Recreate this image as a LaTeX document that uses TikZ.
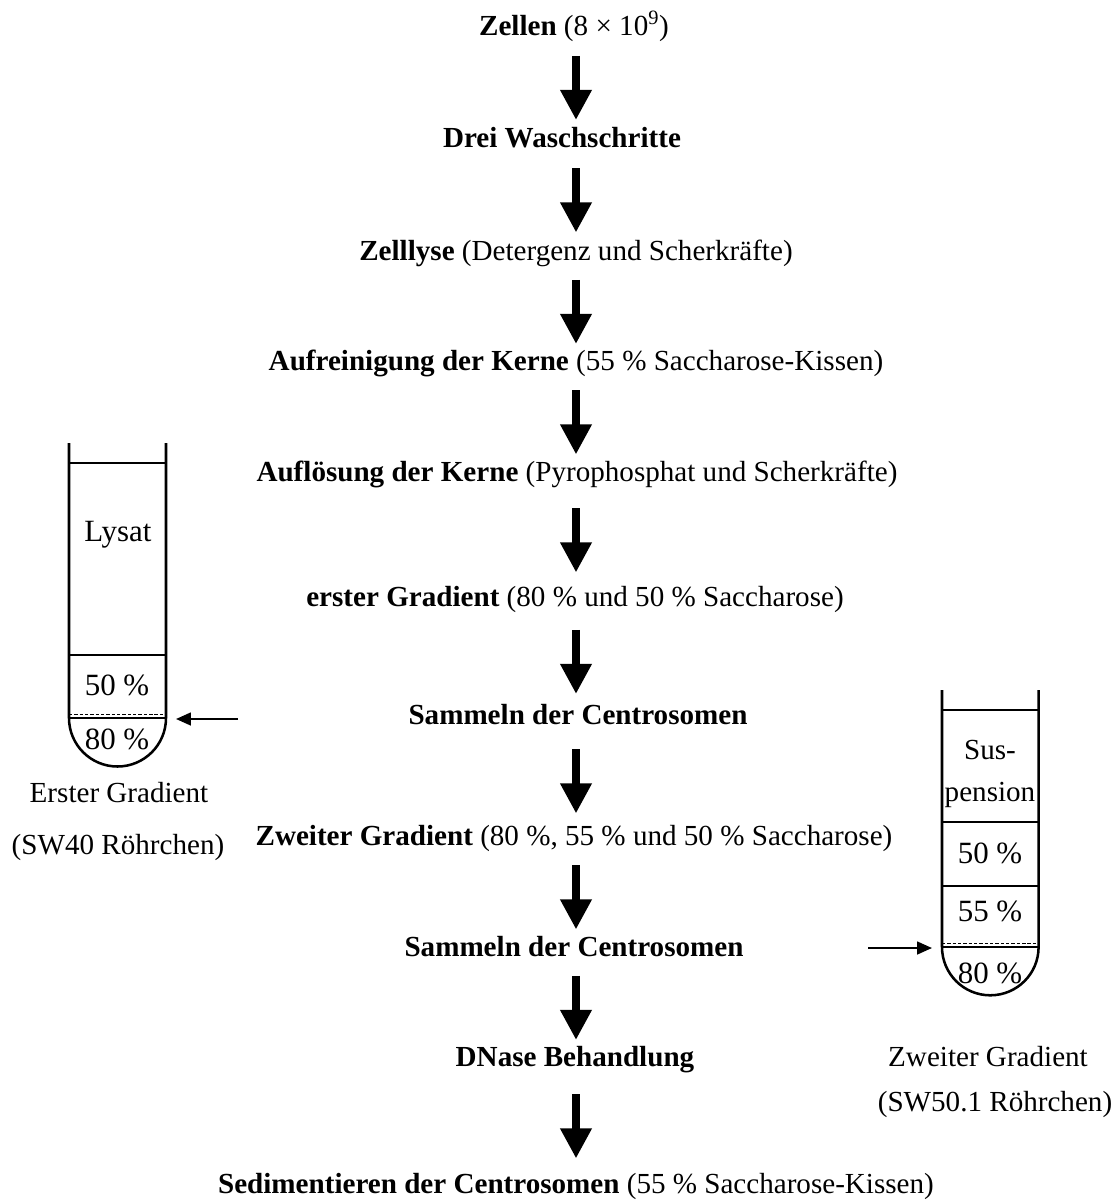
\documentclass[tikz,border=0pt]{standalone}
\usepackage{fontspec}
\setmainfont{Liberation Serif}
\usetikzlibrary{arrows.meta,calc}
\begin{document}
\begin{tikzpicture}[x=0.25mm,y=-0.25mm,
    every node/.style={inner sep=0pt,font=\fontsize{20.7}{32}\selectfont},
    stage/.style={anchor=base,text height=0.7em,text depth=0.25em},
    layer/.style={font=\fontsize{22}{32}\selectfont},
    flow/.style={line width=5pt,-{Triangle[length=21.3pt,width=21.3pt]}},
    tube/.style={line width=1.8pt},
    band/.style={line width=0.9pt,dash pattern=on 2.4pt off 1.4pt},
    pointer/.style={line width=1.5pt,-{Triangle[length=10.5pt,width=9pt]}}]
    \useasboundingbox (0,0) rectangle (1111,1200);
    % protocol steps
    \coordinate (axis) at (576,0);
    \node[stage] (zellen) at (574,35) {\textbf{Zellen} (8 × 10\textsuperscript{9})};
    \node[stage] (wasch) at (562,147) {\textbf{Drei Waschschritte}};
    \node[stage] (lyse) at (576,260) {\textbf{Zelllyse} (Detergenz und Scherkräfte)};
    \node[stage] (reinig) at (576,370)
        {\textbf{Aufreinigung der Kerne} (55 \% Saccharose-Kissen)};
    \node[stage] (loes) at (577,481)
        {\textbf{Auflösung der Kerne} (Pyrophosphat und Scherkräfte)};
    \node[stage] (grad1) at (575,606)
        {\textbf{erster Gradient} (80 \% und 50 \% Saccharose)};
    \node[stage] (samm1) at (578,724) {\textbf{Sammeln der Centrosomen}};
    \node[stage] (grad2) at (574,845)
        {\textbf{Zweiter Gradient} (80 \%, 55 \% und 50 \% Saccharose)};
    \node[stage] (samm2) at (574,956) {\textbf{Sammeln der Centrosomen}};
    \node[stage] (dnase) at (575,1066) {\textbf{DNase Behandlung}};
    \node[stage] (sedi) at (576,1193)
        {\textbf{Sedimentieren der Centrosomen} (55 \% Saccharose-Kissen)};
    \foreach \a/\b in {zellen/wasch,wasch/lyse,lyse/reinig,reinig/loes,
        loes/grad1,grad1/samm1,samm1/grad2,grad2/samm2,samm2/dnase,dnase/sedi}
        \draw[flow] ($(\a -| axis)!.5!(\b -| axis)+(0,-32)$)
            -- ($(\a -| axis)!.5!(\b -| axis)+(0,32)$);
    % first gradient tube
    \draw[tube] (69,443) -- (69,718) arc[start angle=180,end angle=0,radius=48.5]
        -- (166,443);
    \draw[tube] (69,463) -- (166,463) (69,655) -- (166,655) (69,718) -- (166,718);
    \draw[band] (69,714.5) -- (166,714.5);
    \node[layer] (lysat) at (118,535) {Lysat};
    \node[layer] (l50) at (117,685) {50 \%};
    \node[layer] (l80) at (117,739) {80 \%};
    \node (cap1) at (119,793) {Erster Gradient};
    \node (cap1b) at (118,847) {(SW40 Röhrchen)};
    \coordinate (from1) at (238,719);
    \coordinate (band1) at (176,719);
    \draw[pointer] (from1) -- (band1);
    % second gradient tube
    \draw[tube] (942,690) -- (942,947) arc[start angle=180,end angle=0,radius=48.3]
        -- (1038.6,690);
    \draw[tube] (942,710) -- (1038.6,710) (942,822) -- (1038.6,822)
        (942,886) -- (1038.6,886) (942,947) -- (1038.6,947);
    \draw[band] (942,943.5) -- (1038.6,943.5);
    \node[align=center,font=\fontsize{20.7}{30.2}\selectfont] (susp) at (990,774)
        {Sus-\\pension};
    \node[layer] (r50) at (990,853) {50 \%};
    \node[layer] (r55) at (990,911) {55 \%};
    \node[layer] (r80) at (990,973) {80 \%};
    \node (cap2) at (988,1057) {Zweiter Gradient};
    \node (cap2b) at (995,1104) {(SW50.1 Röhrchen)};
    \coordinate (from2) at (868,948);
    \coordinate (band2) at (932,948);
    \draw[pointer] (from2) -- (band2);
\end{tikzpicture}
\end{document}
